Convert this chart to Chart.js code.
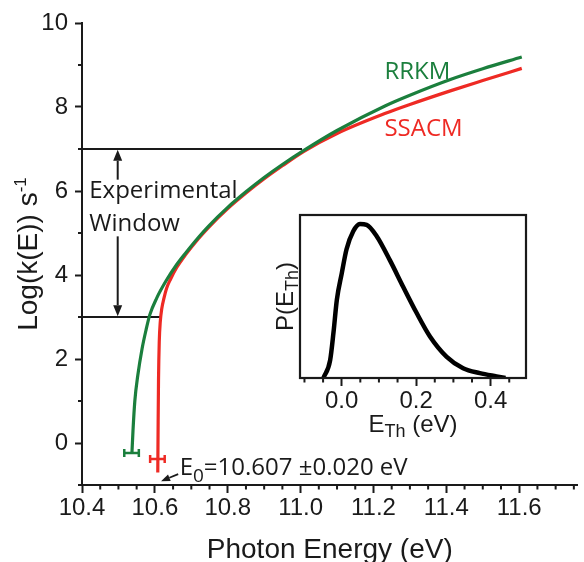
<!DOCTYPE html>
<html>
<head>
<meta charset="utf-8">
<script src="https://cdn.jsdelivr.net/npm/chart.js@4.4.1/dist/chart.umd.min.js"></script>
<style>
  html, body { margin: 0; padding: 0; background: #fff; }
  #wrap { position: relative; width: 584px; height: 562px; overflow: hidden; }
  #main { position: absolute; left: 0; top: 0; }
  #inset { position: absolute; left: 250px; top: 200px; }
</style>
</head>
<body>
<div id="wrap">
  <canvas id="main" width="584" height="562"></canvas>
  <canvas id="inset" width="290" height="250"></canvas>
</div>
<script>
// main panel: log k(E) against photon energy
const xTicks = [10.4, 10.6, 10.8, 11.0, 11.2, 11.4, 11.6];
const yTicks = [0, 2, 4, 6, 8, 10];

const rrkmEnergy = [10.537, 10.540, 10.545, 10.553, 10.565, 10.576, 10.586, 10.605, 10.630, 10.660, 10.684, 10.720, 10.747, 10.800, 10.850, 10.900, 10.950, 11.008, 11.100, 11.233, 11.300, 11.413, 11.500, 11.607];
const rrkmLogK   = [-0.25, 0.30, 1.00, 1.60, 2.25, 2.70, 3.05, 3.45, 3.85, 4.25, 4.52, 4.90, 5.16, 5.61, 5.98, 6.32, 6.63, 6.96, 7.44, 8.03, 8.28, 8.66, 8.91, 9.19];

const ssacmEnergy = [10.608, 10.609, 10.610, 10.612, 10.615, 10.619, 10.625, 10.632, 10.643, 10.660, 10.684, 10.720, 10.747, 10.800, 10.850, 10.900, 10.950, 11.008, 11.100, 11.233, 11.300, 11.413, 11.500, 11.607];
const ssacmLogK   = [-0.70, 0.50, 1.50, 2.40, 2.90, 3.20, 3.45, 3.68, 3.90, 4.18, 4.48, 4.87, 5.13, 5.58, 5.95, 6.29, 6.60, 6.94, 7.37, 7.85, 8.06, 8.39, 8.63, 8.92];

// E0 error bars: centre, half width, height drawn at
const rrkmE0 = [10.536, 0.020, -0.24];
const ssacmE0 = [10.607, 0.020, -0.38];

// experimental window
const windowLow = 3;
const windowHigh = 7;
const windowLowEnd = 10.619;
const windowHighEnd = 11.004;

// inset: P(E_Th)
const ethTicks = [0.0, 0.2, 0.4];
const ethEnergy = [-0.049, -0.031, -0.022, -0.013, 0.000, 0.013, 0.031, 0.049, 0.067, 0.094, 0.130, 0.165, 0.201, 0.237, 0.282, 0.326, 0.371, 0.416, 0.440];
const ethProb   = [0, 0.11, 0.28, 0.48, 0.64, 0.79, 0.90, 0.945, 0.94, 0.87, 0.72, 0.56, 0.40, 0.255, 0.13, 0.06, 0.03, 0.01, 0];

const GREEN = '#1b7f3d';
const RED = '#ee2a24';
const INK = '#1a1a1a';
const AXIS_FONT = '"Liberation Sans", Arial, sans-serif';
const NOTE_FONT = '"Open Sans", sans-serif';

const pts = (xs, ys) => xs.map((x, i) => ({ x, y: ys[i] }));

const xMinor = [];
for (let k = 0; k <= 27; k++) if (k % 4) xMinor.push(10.4 + k * 0.05);
const yMinor = [-1, 1, 3, 5, 7, 9];
const ethMinor = [-0.1, -0.05, 0.05, 0.1, 0.15, 0.25, 0.3, 0.35, 0.45];

function errorBar(e0, color) {
  const [c, h, y] = e0;
  return {
    data: [{ x: c - h, y }, { x: c, y }, { x: c + h, y }],
    borderColor: color, borderWidth: 2.5,
    pointStyle: 'line', rotation: 90,
    pointRadius: ctx => ctx.dataIndex === 1 ? 0 : 4,
    pointBorderColor: color, pointBorderWidth: 2.5
  };
}

function hLine(y, xEnd) {
  return {
    data: [{ x: 10.4, y }, { x: xEnd, y }],
    borderColor: INK, borderWidth: 2, pointRadius: 0
  };
}

function drawRich(ctx, parts, x, y, rot, align) {
  ctx.save();
  ctx.translate(x, y);
  ctx.rotate(rot || 0);
  ctx.textBaseline = 'alphabetic';
  ctx.textAlign = 'left';
  let total = 0;
  const widths = parts.map(p => {
    ctx.font = p.font;
    const w = ctx.measureText(p.text).width;
    total += w;
    return w;
  });
  let cx = align === 'center' ? -total / 2 : 0;
  parts.forEach((p, i) => {
    ctx.font = p.font;
    ctx.fillStyle = p.color || INK;
    ctx.fillText(p.text, cx, p.dy || 0);
    cx += widths[i];
  });
  ctx.restore();
}

function arrow(ctx, x1, y1, x2, y2, len, half) {
  const a = Math.atan2(y2 - y1, x2 - x1);
  const bx = x2 - len * Math.cos(a), by = y2 - len * Math.sin(a);
  ctx.beginPath();
  ctx.moveTo(x1, y1);
  ctx.lineTo(bx, by);
  ctx.stroke();
  ctx.beginPath();
  ctx.moveTo(x2, y2);
  ctx.lineTo(bx + half * Math.sin(a), by - half * Math.cos(a));
  ctx.lineTo(bx - half * Math.sin(a), by + half * Math.cos(a));
  ctx.closePath();
  ctx.fill();
}

const mainDecor = {
  id: 'mainDecor',
  afterDraw(chart) {
    const { ctx, chartArea: area, scales: { x, y } } = chart;
    ctx.save();
    ctx.strokeStyle = INK;
    ctx.fillStyle = INK;
    ctx.lineWidth = 2;

    // minor ticks
    ctx.beginPath();
    xMinor.forEach(v => {
      const px = x.getPixelForValue(v);
      ctx.moveTo(px, area.bottom);
      ctx.lineTo(px, area.bottom + 4.5);
    });
    yMinor.forEach(v => {
      const py = y.getPixelForValue(v);
      ctx.moveTo(area.left, py);
      ctx.lineTo(area.left - 4, py);
    });
    ctx.stroke();

    // experimental window arrows
    const ax = x.getPixelForValue(10.498);
    arrow(ctx, ax, y.getPixelForValue(6.27), ax, y.getPixelForValue(6.98), 11, 4.5);
    arrow(ctx, ax, y.getPixelForValue(4.92), ax, y.getPixelForValue(3.02), 11, 4.5);
    ctx.lineWidth = 1.8;
    arrow(ctx, x.getPixelForValue(10.664), y.getPixelForValue(-0.74),
               x.getPixelForValue(10.617), y.getPixelForValue(-0.91), 9, 3.5);

    const note = '24px ' + NOTE_FONT;
    drawRich(ctx, [{ text: 'Experimental', font: note }], x.getPixelForValue(10.42), y.getPixelForValue(5.83));
    drawRich(ctx, [{ text: 'Window', font: note }], x.getPixelForValue(10.42), y.getPixelForValue(5.04));
    drawRich(ctx, [{ text: 'RRKM', font: note, color: GREEN }], x.getPixelForValue(11.23), y.getPixelForValue(8.67));
    drawRich(ctx, [{ text: 'SSACM', font: note, color: RED }], x.getPixelForValue(11.23), y.getPixelForValue(7.32));
    drawRich(ctx, [
      { text: 'E', font: note },
      { text: '0', font: '19px ' + NOTE_FONT, dy: 7 },
      { text: '=10.607 \u00B10.020 eV', font: note }
    ], x.getPixelForValue(10.668), y.getPixelForValue(-0.754));

    // y axis title with superscript
    drawRich(ctx, [
      { text: 'Log(k(E)) s', font: '28px ' + AXIS_FONT },
      { text: '-1', font: '17px ' + AXIS_FONT, dy: -11 }
    ], 36.5, (area.top + area.bottom) / 2, -Math.PI / 2, 'center');
    ctx.restore();
  }
};

new Chart(document.getElementById('main'), {
  type: 'line',
  data: {
    datasets: [
      { label: 'RRKM', data: pts(rrkmEnergy, rrkmLogK), borderColor: GREEN, borderWidth: 3.2, pointRadius: 0, cubicInterpolationMode: 'monotone' },
      { label: 'SSACM', data: pts(ssacmEnergy, ssacmLogK), borderColor: RED, borderWidth: 3.2, pointRadius: 0, cubicInterpolationMode: 'monotone' },
      errorBar(rrkmE0, GREEN),
      errorBar(ssacmE0, RED),
      hLine(windowHigh, windowHighEnd),
      hLine(windowLow, windowLowEnd)
    ]
  },
  options: {
    responsive: false,
    animation: false,
    devicePixelRatio: 1,
    layout: { padding: { top: 23, right: 0, bottom: 0, left: 0 } },
    plugins: { legend: { display: false }, tooltip: { enabled: false } },
    scales: {
      x: {
        type: 'linear', min: 10.4, max: 11.76,
        afterBuildTicks: s => { s.ticks = xTicks.map(v => ({ value: v })); },
        afterFit: s => { s.height = 77; },
        ticks: { callback: v => v.toFixed(1), font: { family: AXIS_FONT, size: 24 }, color: INK, padding: 1, maxRotation: 0, autoSkip: false },
        grid: { drawOnChartArea: false, tickLength: 8, tickWidth: 2, tickColor: INK },
        border: { color: INK, width: 2 },
        title: { display: true, text: 'Photon Energy (eV)', font: { family: AXIS_FONT, size: 28 }, color: INK, padding: { top: 0, bottom: -5 } }
      },
      y: {
        type: 'linear', min: -1, max: 10,
        afterBuildTicks: s => { s.ticks = yTicks.map(v => ({ value: v })); },
        afterFit: s => { s.width = 82; },
        ticks: { callback: v => String(v), font: { family: AXIS_FONT, size: 24 }, color: INK, padding: 7, autoSkip: false },
        grid: { drawOnChartArea: false, tickLength: 7, tickWidth: 2, tickColor: INK },
        border: { color: INK, width: 2 }
      }
    }
  },
  plugins: [mainDecor]
});

const insetDecor = {
  id: 'insetDecor',
  afterDraw(chart) {
    const { ctx, chartArea: area, scales: { x } } = chart;
    ctx.save();
    ctx.strokeStyle = INK;
    ctx.lineWidth = 2.2;
    ctx.strokeRect(area.left, area.top, area.right - area.left, area.bottom - area.top);
    ctx.lineWidth = 2;
    ctx.beginPath();
    ethMinor.forEach(v => {
      const px = x.getPixelForValue(v);
      ctx.moveTo(px, area.bottom);
      ctx.lineTo(px, area.bottom + 4.5);
    });
    ctx.stroke();
    const big = '24px ' + AXIS_FONT, sub = '18px ' + AXIS_FONT;
    drawRich(ctx, [
      { text: 'E', font: big },
      { text: 'Th', font: sub, dy: 5 },
      { text: ' (eV)', font: big }
    ], (area.left + area.right) / 2, area.bottom + 54, 0, 'center');
    drawRich(ctx, [
      { text: 'P(E', font: big },
      { text: 'Th', font: sub, dy: 5 },
      { text: ')', font: big }
    ], area.left - 7, (area.top + area.bottom) / 2, -Math.PI / 2, 'center');
    ctx.restore();
  }
};

new Chart(document.getElementById('inset'), {
  type: 'line',
  data: {
    datasets: [
      { label: 'P(E_Th)', data: pts(ethEnergy, ethProb), borderColor: '#000', borderWidth: 4.5, pointRadius: 0, cubicInterpolationMode: 'monotone' }
    ]
  },
  options: {
    responsive: false,
    animation: false,
    devicePixelRatio: 1,
    layout: { padding: { top: 15, right: 14, bottom: 0, left: 0 } },
    plugins: { legend: { display: false }, tooltip: { enabled: false } },
    scales: {
      x: {
        type: 'linear', min: -0.112, max: 0.495,
        afterBuildTicks: s => { s.ticks = ethTicks.map(v => ({ value: v })); },
        afterFit: s => { s.height = 72; },
        ticks: { callback: v => v.toFixed(1), font: { family: AXIS_FONT, size: 24 }, color: INK, padding: 1, maxRotation: 0, autoSkip: false },
        grid: { drawOnChartArea: false, tickLength: 8, tickWidth: 2, tickColor: INK },
        border: { color: INK, width: 2 }
      },
      y: {
        type: 'linear', min: 0, max: 1,
        afterFit: s => { s.width = 50; },
        ticks: { display: false },
        grid: { display: false },
        border: { display: false }
      }
    }
  },
  plugins: [insetDecor]
});
</script>
</body>
</html>
